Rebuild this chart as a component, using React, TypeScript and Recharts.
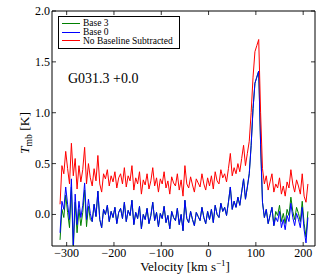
import React from 'react';
import { LineChart, Line, XAxis, YAxis, Legend, Customized } from 'recharts';

// channel velocities (km/s)
const velocity = [
  -314, -310, -306, -302, -298, -294, -290, -286, -282, -278, -274, -270, -266, -262, -258, -254,
  -250, -246, -242, -238, -234, -230, -226, -222, -218, -214, -210, -206, -202, -198, -194, -190,
  -186, -182, -178, -174, -170, -166, -162, -158, -154, -150, -146, -142, -138, -134, -130, -126,
  -122, -118, -114, -110, -106, -102, -98, -94, -90, -86, -82, -78, -74, -70, -66, -62, -58, -54,
  -50, -46, -42, -38, -34, -30, -26, -22, -18, -14, -10, -6, -2, 2, 6, 10, 14, 18, 22, 26, 30, 34,
  38, 42, 46, 50, 54, 58, 62, 66, 70, 74, 78, 82, 86, 90, 94, 98, 102, 106, 110, 114, 118, 122, 126,
  130, 134, 138, 142, 146, 150, 154, 158, 162, 166, 170, 174, 178, 182, 186, 190, 194, 198, 202, 206, 210,
];

// No Baseline Subtracted
const raw = [
  0.10, 0.48, 0.40, 0.62, 0.45, 0.30, 0.70, 0.38, 0.55, 0.25, 0.48, 0.32, 0.44, 0.66, 0.30, 0.50,
  0.36, 0.28, 0.45, 0.33, 0.58, 0.30, 0.22, 0.40, 0.35, 0.44, 0.28, 0.38, 0.32, 0.42, 0.26, 0.36,
  0.40, 0.30, 0.46, 0.27, 0.38, 0.33, 0.48, 0.24, 0.36, 0.30, 0.42, 0.20, 0.34, 0.29, 0.40, 0.25,
  0.33, 0.46, 0.28, 0.36, 0.22, 0.35, 0.30, 0.42, 0.26, 0.33, 0.20, 0.37, 0.31, 0.28, 0.40, 0.24, 0.34, 0.18,
  0.48, 0.30, 0.26, 0.37, 0.29, 0.22, 0.35, 0.31, 0.27, 0.40, 0.30, 0.24, 0.36, 0.28, 0.38, 0.25, 0.42, 0.33, 0.30, 0.44, 0.36, 0.40,
  0.32, 0.45, 0.60, 0.38, 0.46, 0.40, 0.50, 0.42, 0.55, 0.68, 0.48, 0.60, 0.72, 1.00, 1.35, 1.60, 1.66, 1.72, 1.00, 0.45, 0.30, 0.38, 0.24,
  0.32, 0.40, 0.22, 0.30, 0.26, 0.36, 0.20, 0.28, 0.18, 0.32, 0.26, 0.44, 0.30, 0.22, 0.34, 0.28, 0.20, 0.40, 0.18, 0.12, 0.30,
];

// Base 0
const base0 = [
  -0.18, 0.13, 0.05, 0.27, 0.10, -0.05, 0.35, -0.30, 0.20, -0.10, 0.13, -0.03, 0.09, 0.31, -0.05, 0.15,
  0.01, -0.07, 0.10, -0.02, 0.23, -0.05, -0.13, 0.05, 0.00, 0.09, -0.07, 0.03, -0.03, 0.07, -0.09, 0.02,
  0.06, -0.04, 0.12, -0.07, 0.04, -0.01, 0.14, -0.10, 0.02, -0.04, 0.08, -0.14, 0.00, -0.05, 0.06, -0.09,
  -0.01, 0.12, -0.06, 0.02, -0.12, 0.01, -0.04, 0.08, -0.08, -0.01, -0.14, 0.03, -0.03, -0.06, 0.06, -0.10, 0.00, -0.16,
  0.14, -0.04, -0.08, 0.03, -0.05, -0.11, 0.02, -0.02, -0.06, 0.07, -0.03, -0.09, 0.03, -0.05, 0.05, -0.08, 0.09, 0.00, -0.03, 0.11, 0.03, 0.07,
  -0.01, 0.12, 0.27, 0.05, 0.13, 0.07, 0.17, 0.09, 0.22, 0.35, 0.15, 0.27, 0.40, 0.68, 1.04, 1.29, 1.35, 1.41, 0.69, 0.12, -0.03, 0.05, -0.09,
  -0.01, 0.07, -0.11, -0.03, -0.07, 0.03, -0.13, -0.05, -0.15, -0.01, -0.07, 0.11, -0.03, -0.11, 0.01, -0.05, -0.13, 0.07, -0.15, -0.28, -0.03,
];

// Base 3
const base3 = [
  -0.25, 0.05, -0.03, 0.19, 0.02, -0.13, 0.27, -0.36, 0.12, -0.18, 0.05, -0.11, 0.02, 0.24, -0.12, 0.08,
  -0.05, -0.07, 0.10, -0.02, 0.23, -0.05, -0.13, 0.05, 0.00, 0.09, -0.07, 0.03, -0.03, 0.07, -0.09, 0.02,
  0.06, -0.04, 0.12, -0.07, 0.04, -0.01, 0.14, -0.10, 0.02, -0.04, 0.08, -0.14, 0.00, -0.05, 0.06, -0.09,
  -0.01, 0.12, -0.06, 0.02, -0.12, 0.01, -0.04, 0.08, -0.08, -0.01, -0.14, 0.03, -0.03, -0.06, 0.06, -0.10, 0.00, -0.16,
  0.14, -0.04, -0.08, 0.03, -0.05, -0.11, 0.02, -0.02, -0.06, 0.07, -0.03, -0.09, 0.03, -0.05, 0.05, -0.08, 0.09, 0.00, -0.03, 0.11, 0.03, 0.07,
  -0.01, 0.12, 0.27, 0.05, 0.13, 0.07, 0.17, 0.09, 0.22, 0.35, 0.15, 0.27, 0.40, 0.68, 1.04, 1.29, 1.35, 1.41, 0.69, 0.12, -0.03, 0.05, -0.09,
  -0.01, 0.07, -0.11, 0.03, -0.01, 0.09, -0.07, 0.01, -0.09, 0.05, -0.01, 0.17, 0.03, -0.05, 0.07, 0.01, -0.07, 0.13, -0.09, -0.22, 0.03,
];

const xTicks = [-300, -200, -100, 0, 100, 200];
const yTicks = [0, 0.5, 1.0, 1.5, 2.0];
const seriesKeys = ['base3', 'base0', 'raw'];
const seriesNames = ['Base 3', 'Base 0', 'No Baseline Subtracted'];
const seriesColors = ['#008000', '#0000ff', '#ff0000'];
const sourceName = 'G031.3 +0.0';

const data = velocity.map((v, i) => ({ v, base3: base3[i], base0: base0[i], raw: raw[i] }));

const FONT = '"Liberation Serif", "DejaVu Serif", serif';
const GAP = 4; // tickMargin
const TICK = 4; // inward tick length

const fmtX = (v: number) => (v < 0 ? `\u2212${Math.abs(v)}` : `${v}`);

const BottomTick = (props: any) => {
  const { x, y, payload } = props;
  const ay = y - GAP;
  return (
    <g>
      <line x1={x} x2={x} y1={ay} y2={ay - TICK} stroke="#000" strokeWidth={0.8} />
      <text x={x} y={ay + 11} textAnchor="middle" fontSize={12} fontFamily={FONT} fill="#000">
        {fmtX(payload.value)}
      </text>
    </g>
  );
};

const TopTick = (props: any) => {
  const { x, y } = props;
  const ay = y + GAP;
  return <line x1={x} x2={x} y1={ay} y2={ay + TICK} stroke="#000" strokeWidth={0.8} />;
};

const LeftTick = (props: any) => {
  const { x, y, payload } = props;
  const ax = x + GAP;
  return (
    <g>
      <line x1={ax} x2={ax + TICK} y1={y} y2={y} stroke="#000" strokeWidth={0.8} />
      <text x={ax - 2} y={y + 4} textAnchor="end" fontSize={12} fontFamily={FONT} fill="#000">
        {payload.value.toFixed(1)}
      </text>
    </g>
  );
};

const RightTick = (props: any) => {
  const { x, y } = props;
  const ax = x - GAP;
  return <line x1={ax} x2={ax - TICK} y1={y} y2={y} stroke="#000" strokeWidth={0.8} />;
};

const LegendBox = () => (
  <div
    style={{
      border: '1px solid #000',
      background: '#fff',
      padding: '2px 4px 3px 3px',
      fontFamily: FONT,
      fontSize: 9.5,
      lineHeight: '8.8px',
      color: '#000',
      boxSizing: 'border-box',
      width: 122,
    }}
  >
    {seriesNames.map((n, i) => (
      <div key={n} style={{ display: 'flex', alignItems: 'center', height: 8.8, whiteSpace: 'nowrap' }}>
        <span style={{ display: 'inline-block', width: 18, borderTop: `1.2px solid ${seriesColors[i]}`, marginRight: 3 }} />
        {n}
      </div>
    ))}
  </div>
);

const Labels = () => (
  <g fontFamily={FONT} fill="#000">
    <text x={68} y={83} fontSize={14}>{sourceName}</text>
    <text x={185} y={271} fontSize={13} textAnchor="middle">
      Velocity [km s<tspan fontSize={9} dy={-5}>{'\u22121'}</tspan>
      <tspan dy={5}>]</tspan>
    </text>
    <text transform="translate(29,133) rotate(-90)" fontSize={13.5} textAnchor="middle">
      <tspan fontStyle="italic">T</tspan>
      <tspan fontSize={9.5} dy={3}>mb</tspan>
      <tspan dy={-3}> [K]</tspan>
    </text>
  </g>
);

export default function App() {
  return (
    <div style={{ position: 'absolute', left: 0, top: 0, width: 325, height: 275, background: '#fff' }}>
      <LineChart width={325} height={275} data={data} margin={{ top: 10, right: 9, bottom: 0, left: 12 }}>
        <XAxis
          xAxisId="b"
          dataKey="v"
          type="number"
          domain={[-331, 225]}
          allowDataOverflow
          ticks={xTicks}
          interval={0}
          height={29}
          tickSize={0}
          tickMargin={GAP}
          tickLine={false}
          tick={<BottomTick />}
          axisLine={{ stroke: '#000', strokeWidth: 1 }}
        />
        <XAxis
          xAxisId="t"
          orientation="top"
          dataKey="v"
          type="number"
          domain={[-331, 225]}
          allowDataOverflow
          ticks={xTicks}
          interval={0}
          height={1}
          tickSize={0}
          tickMargin={GAP}
          tickLine={false}
          tick={<TopTick />}
          axisLine={{ stroke: '#000', strokeWidth: 1 }}
        />
        <YAxis
          yAxisId="l"
          type="number"
          domain={[-0.31, 2.0]}
          allowDataOverflow
          ticks={yTicks}
          interval={0}
          width={40}
          tickSize={0}
          tickMargin={GAP}
          tickLine={false}
          tick={<LeftTick />}
          axisLine={{ stroke: '#000', strokeWidth: 1 }}
        />
        <YAxis
          yAxisId="r"
          orientation="right"
          type="number"
          domain={[-0.31, 2.0]}
          allowDataOverflow
          ticks={yTicks}
          interval={0}
          width={1}
          tickSize={0}
          tickMargin={GAP}
          tickLine={false}
          tick={<RightTick />}
          axisLine={{ stroke: '#000', strokeWidth: 1 }}
        />
        {seriesKeys.map((k, i) => (
          <Line
            key={k}
            xAxisId="b"
            yAxisId="l"
            type="linear"
            dataKey={k}
            name={seriesNames[i]}
            stroke={seriesColors[i]}
            strokeWidth={1}
            dot={false}
            isAnimationActive={false}
          />
        ))}
        <Legend
          layout="vertical"
          align="center"
          verticalAlign="middle"
          content={<LegendBox />}
          wrapperStyle={{ position: 'absolute', left: 58, top: 16, width: 122, margin: 0 }}
        />
        <Customized component={<Labels />} />
      </LineChart>
    </div>
  );
}
